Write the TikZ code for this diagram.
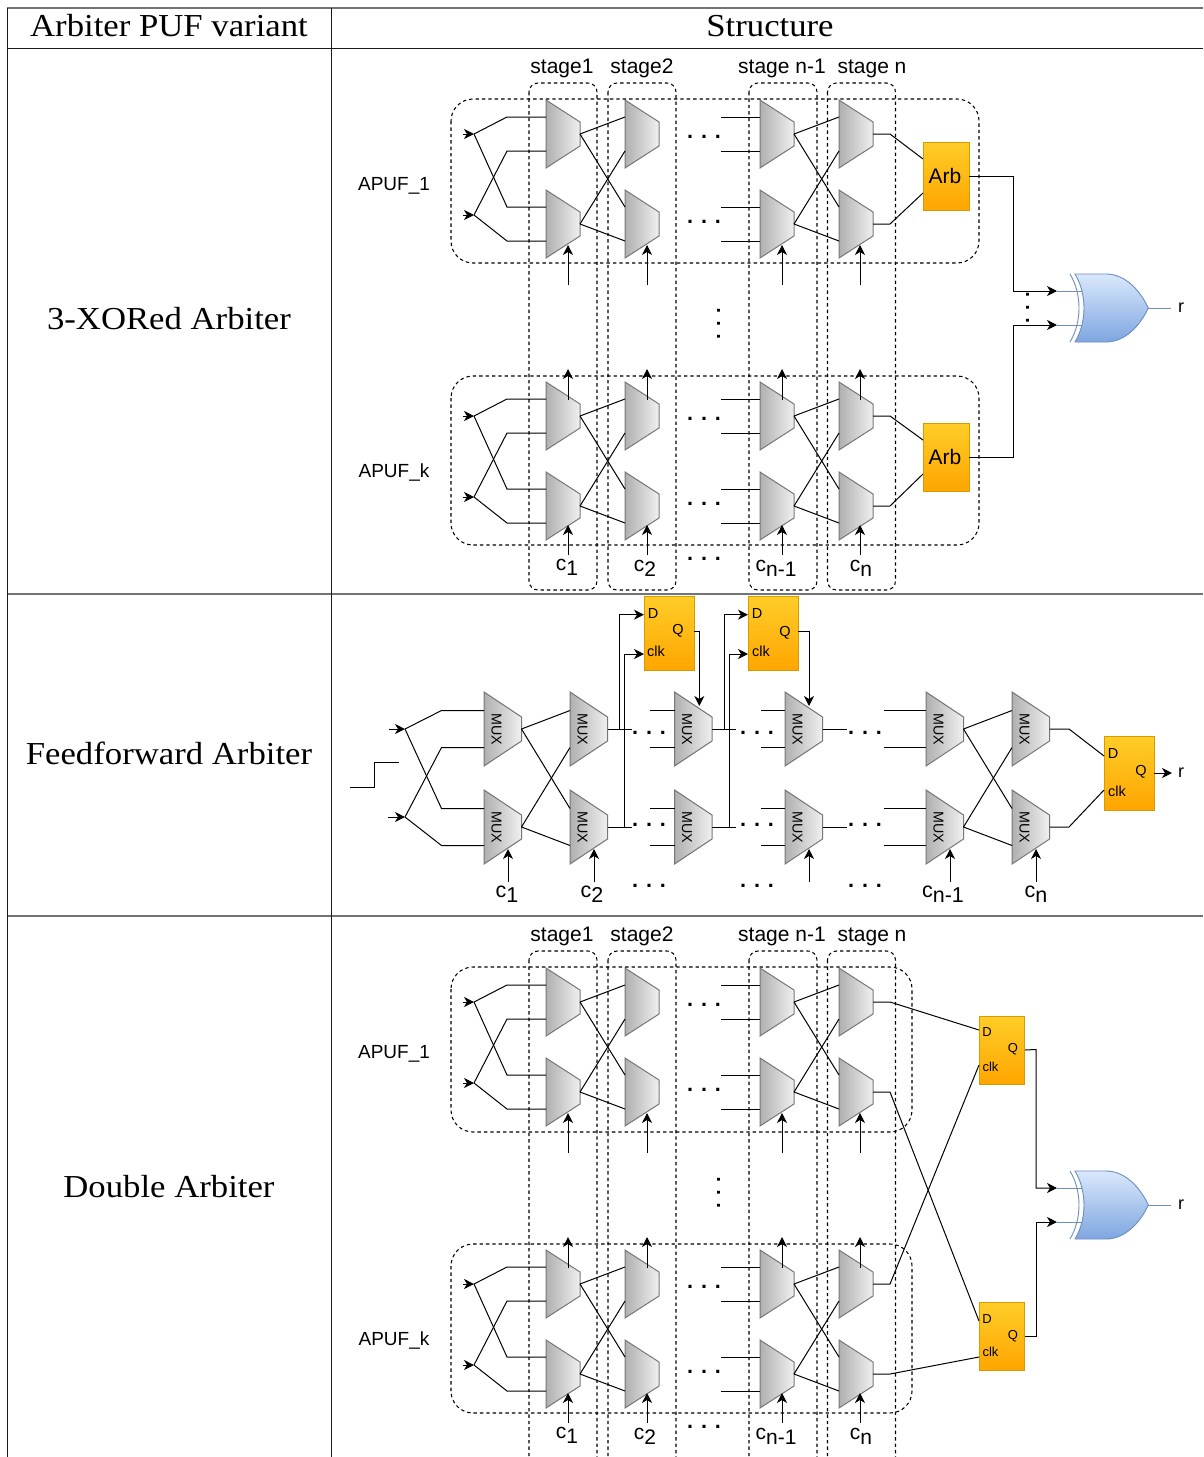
\documentclass[tikz,border=0pt]{standalone}
\usepackage{fontspec}
\setmainfont[FakeStretch=1.085]{Liberation Serif}
\newfontfamily\sansf{Liberation Sans}
\usetikzlibrary{arrows.meta}
\definecolor{muxl}{HTML}{B0B0B0}
\definecolor{muxr}{HTML}{F0F0F0}
\definecolor{muxb}{HTML}{777777}
\definecolor{yt}{HTML}{FFCD28}
\definecolor{yb}{HTML}{FFA500}
\definecolor{yd}{HTML}{D79B00}
\definecolor{bt}{HTML}{DAE8FC}
\definecolor{bb}{HTML}{7EA6E0}
\definecolor{bd}{HTML}{6C8EBF}
\newcommand\fsz[1]{\fontsize{#1}{#1}\selectfont}
\tikzset{
  x=1pt,y=-1pt,
  wire/.style={draw=black,line width=1pt,line join=miter},
  arw/.style={wire,-{Stealth[length=10pt,width=10pt,inset=3pt]}},
  dash box/.style={draw=black,line width=1.05pt,dash pattern=on 3.4pt off 3pt,fill=none},
  grid line/.style={draw=black!55,line width=1.4pt},
  thin grid line/.style={draw=black!90,line width=0.9pt},
  muxfill/.style={draw=muxb,line width=1pt,left color=muxl,right color=muxr},
  yellowbox/.style={draw=yd,line width=0.8pt,top color=yt,bottom color=yb,minimum width=#1,inner sep=0pt,rectangle,font=\sansf\fsz{21}},
  sans/.style={font=\sansf\fsz{#1},inner sep=0pt,text=black},
  serif/.style={font=\fsz{32},inner sep=0pt,text=black},
  dotrow/.style={font=\sansf\bfseries\fsz{21.6},inner sep=0pt,anchor=base},
  dotcol/.style={font=\sansf\bfseries\fsz{20},inner sep=0pt,anchor=base,rotate=90},
  muxtext/.style={font=\sansf\fsz{14.3},inner sep=0pt,rotate=-90,text=black},
}
\newcommand\muxgate[6]{%
  \begin{scope}[shift={(#2,#3)}]
    \path[muxfill] (0,0) -- (#4,#6) -- (#4,#5-#6) -- (0,#5) -- cycle;
    \coordinate (#1-o) at (#4,#5/2);
    \coordinate (#1-a) at (0,#5/4);
    \coordinate (#1-b) at (0,#5*3/4);
  \end{scope}}
% prefix, y of top, control tail y, control tip y
\newcommand\apufcore[4]{%
  \begin{scope}[shift={(0,#2)}]
    \muxgate{#1aa}{546}{0}{34}{68}{22}
    \muxgate{#1ab}{546}{90}{34}{68}{22}
    \muxgate{#1ba}{625}{0}{34}{68}{22}
    \muxgate{#1bb}{625}{90}{34}{68}{22}
    \muxgate{#1ca}{760}{0}{34}{68}{22}
    \muxgate{#1cb}{760}{90}{34}{68}{22}
    \muxgate{#1da}{839}{0}{34}{68}{22}
    \muxgate{#1db}{839}{90}{34}{68}{22}
    \coordinate (#1i1s) at (463,34); \coordinate (#1i1) at (474,34);
    \coordinate (#1i2s) at (463,115); \coordinate (#1i2) at (474,115);
    \coordinate (#1k1) at (507,17); \coordinate (#1k2) at (507,107);
    \coordinate (#1k3) at (507,51); \coordinate (#1k4) at (507,141);
    \coordinate (#1s1) at (721,17); \coordinate (#1s2) at (721,51);
    \coordinate (#1s3) at (721,107); \coordinate (#1s4) at (721,141);
    \draw[arw] (#1i1s) -- (#1i1);
    \draw[arw] (#1i2s) -- (#1i2);
    \draw[wire] (#1i1) -- (#1k1) -- (#1aa-a);
    \draw[wire] (#1i1) -- (#1k2) -- (#1ab-a);
    \draw[wire] (#1i2) -- (#1k3) -- (#1aa-b);
    \draw[wire] (#1i2) -- (#1k4) -- (#1ab-b);
    \draw[wire] (#1aa-o) -- (#1ba-a);
    \draw[wire] (#1aa-o) -- (#1bb-a);
    \draw[wire] (#1ab-o) -- (#1ba-b);
    \draw[wire] (#1ab-o) -- (#1bb-b);
    \draw[wire] (#1ca-o) -- (#1da-a);
    \draw[wire] (#1ca-o) -- (#1db-a);
    \draw[wire] (#1cb-o) -- (#1da-b);
    \draw[wire] (#1cb-o) -- (#1db-b);
    \draw[wire] (#1s1) -- (#1ca-a);
    \draw[wire] (#1s2) -- (#1ca-b);
    \draw[wire] (#1s3) -- (#1cb-a);
    \draw[wire] (#1s4) -- (#1cb-b);
    \foreach \xx/\nn in {568/a,647/b,782/c,860/d}{
      \coordinate (#1t\nn) at (\xx,#3);
      \coordinate (#1h\nn) at (\xx,#4);
      \draw[arw] (#1t\nn) -- (#1h\nn);
    }
    \node[dotrow] (#1d1) at (704,38.5) {. . .};
    \node[dotrow] (#1d2) at (704,123.5) {. . .};
  \end{scope}}
\newcommand\uparrows[2]{%
  \begin{scope}[shift={(0,#2)}]
    \foreach \xx/\nn in {568/a,647/b,782/c,860/d}{
      \coordinate (#1u\nn) at (\xx,18);
      \coordinate (#1v\nn) at (\xx,-13);
      \draw[arw] (#1u\nn) -- (#1v\nn);
    }
  \end{scope}}
\newcommand\stagebox[3]{%
  \draw[dash box,rounded corners=9pt] (#2,#3) rectangle ++(68,#1);}
\newcommand\xorgate[2]{%
  \begin{scope}[shift={(0,#2)}]
    \coordinate (#1-ia) at (1057,17);
    \coordinate (#1-ib) at (1057,51);
    \coordinate (#1-oo) at (1148.3,34);
    \coordinate (#1-r) at (1171,34);
    \draw[bd,line width=0.9pt] (#1-ia) -- (1082,17);
    \draw[bd,line width=0.9pt] (#1-ib) -- (1082,51);
    \draw[bd,line width=0.9pt] (1070,0) .. controls (1082,20) and (1082,48) .. (1070,68);
    \path[draw=bd,line width=0.9pt,top color=bt,bottom color=bb]
      (1075,0) -- (1106,0) .. controls (1126,0) and (1141,18) .. (1148.3,34)
      .. controls (1141,50) and (1126,68) .. (1106,68) -- (1075,68)
      .. controls (1087,48) and (1087,20) .. (1075,0) -- cycle;
    \draw[bd,line width=0.9pt] (#1-oo) -- (#1-r);
    \node[sans=18] (#1-lab) at (1181,34) {r};
  \end{scope}}
\begin{document}
\begin{tikzpicture}
\useasboundingbox (0,0) rectangle (1203,1457);
\fill[white] (0,0) rectangle (1203,1457);
% table
\coordinate (tl) at (7,8); \coordinate (tr) at (1203,8);
\coordinate (h1) at (7,48); \coordinate (h2) at (1203,48);
\coordinate (r1) at (7,594); \coordinate (r2) at (1203,594);
\coordinate (s1) at (7,916); \coordinate (s2) at (1203,916);
\coordinate (bl) at (7,1457); \coordinate (bm) at (331,1457); \coordinate (tm) at (331,8);
\draw[grid line] (tl) -- (tr);
\draw[thin grid line] (h1) -- (h2);
\draw[grid line] (r1) -- (r2);
\draw[grid line] (s1) -- (s2);
\draw[thin grid line] (tl) -- (bl);
\draw[thin grid line] (tm) -- (bm);
\node[serif] (hd1) at (169,26) {Arbiter PUF variant};
\node[serif] (hd2) at (770,26) {Structure};
\node[serif] (rw1) at (169,319) {3-XORed Arbiter};
\node[serif] (rw2) at (169,753) {Feedforward Arbiter};
\node[serif] (rw3) at (169,1187) {Double Arbiter};

% ---------- 3-XORed ----------
\apufcore{A}{100}{185}{145}
\apufcore{B}{382}{173}{143}
\uparrows{B}{382}
\draw[dash box,rounded corners=22pt] (451,99) rectangle (979,263);
\draw[dash box,rounded corners=22pt] (451,376) rectangle (979,545);
\stagebox{507}{529}{83}
\stagebox{507}{608}{83}
\stagebox{507}{749}{83}
\stagebox{507}{827.5}{83}
\node[sans=21] (t1) at (562,68) {stage1};
\node[sans=21] (t2) at (642,68) {stage2};
\node[sans=21] (t3) at (782,68) {stage n-1};
\node[sans=21] (t4) at (872,68.5) {stage n};
\node[sans=19] (l1) at (394,186) {APUF\_1};
\node[sans=19] (l2) at (394,472) {APUF\_k};
\node[yellowbox=46pt,minimum height=68pt] (arb1) at (946,176) {};
\node[yellowbox=46pt,minimum height=68pt] (arb2) at (946,457) {};
\node[sans=21] (arb1t) at (945,176) {Arb};
\node[sans=21] (arb2t) at (945,457) {Arb};
\coordinate (a1u) at (890,134); \coordinate (a1d) at (890,224);
\coordinate (a1i1) at (923,159); \coordinate (a1i2) at (923,193);
\coordinate (a2u) at (890,416); \coordinate (a2d) at (890,506);
\coordinate (a2i1) at (923,440); \coordinate (a2i2) at (923,474);
\draw[wire] (Ada-o) -- (a1u) -- (a1i1);
\draw[wire] (Adb-o) -- (a1d) -- (a1i2);
\draw[wire] (Bda-o) -- (a2u) -- (a2i1);
\draw[wire] (Bdb-o) -- (a2d) -- (a2i2);
\xorgate{X}{274}
\coordinate (x1) at (1013,176); \coordinate (x2) at (1013,458);
\draw[arw] (arb1.east) -- (arb1.east -| x1) -- (x1 |- X-ia) -- (X-ia);
\draw[arw] (arb2.east) -- (arb2.east -| x2) -- (x2 |- X-ib) -- (X-ib);
\node[dotcol] (v1) at (720,324) {. . .};
\node[dotcol] (v2) at (1029,308) {. . .};
\node[dotrow] (dd1) at (704,560) {. . .};
\node[sans=21] (c1) at (567,567) {c\raisebox{-5pt}{1}};
\node[sans=21] (c2) at (645,568) {c\raisebox{-5pt}{2}};
\node[sans=21] (c3) at (776,568) {c\raisebox{-5pt}{n-1}};
\node[sans=21] (c4) at (861,568) {c\raisebox{-5pt}{n}};

% ---------- Feedforward ----------
\foreach \nn/\xx in {a/484,b/570,c/674.5,d/785,e/926,f/1012}{
  \muxgate{Fu\nn}{\xx}{692}{37.5}{74}{25}
  \muxgate{Fl\nn}{\xx}{790}{37.5}{74}{25}
  \node[muxtext] (Fut\nn) at (\xx+12.5,729) {MUX};
  \node[muxtext] (Flt\nn) at (\xx+12.5,827) {MUX};
}
\coordinate (wv1) at (350,787); \coordinate (wv2) at (374,787);
\coordinate (wv3) at (374,762.7); \coordinate (wv4) at (399,762.7);
\draw[wire] (wv1) -- (wv2) -- (wv3) -- (wv4);
\coordinate (Fi1s) at (389,729); \coordinate (Fi1) at (405,729);
\coordinate (Fi2s) at (388,817); \coordinate (Fi2) at (405,817);
\draw[arw] (Fi1s) -- (Fi1);
\draw[arw] (Fi2s) -- (Fi2);
\coordinate (Fk1) at (441.5,710.5); \coordinate (Fk2) at (441.5,808.5);
\coordinate (Fk3) at (441.5,747.5); \coordinate (Fk4) at (441.5,845.5);
\draw[wire] (Fi1) -- (Fk1) -- (Fua-a);
\draw[wire] (Fi1) -- (Fk2) -- (Fla-a);
\draw[wire] (Fi2) -- (Fk3) -- (Fua-b);
\draw[wire] (Fi2) -- (Fk4) -- (Fla-b);
\draw[wire] (Fua-o) -- (Fub-a);
\draw[wire] (Fua-o) -- (Flb-a);
\draw[wire] (Fla-o) -- (Fub-b);
\draw[wire] (Fla-o) -- (Flb-b);
\draw[wire] (Fue-o) -- (Fuf-a);
\draw[wire] (Fue-o) -- (Flf-a);
\draw[wire] (Fle-o) -- (Fuf-b);
\draw[wire] (Fle-o) -- (Flf-b);
\foreach \nn/\xx in {c/650,d/761,e/884}{
  \coordinate (Fs1\nn) at (\xx,710.5);
  \coordinate (Fs2\nn) at (\xx,747.5);
  \coordinate (Fs3\nn) at (\xx,808.5);
  \coordinate (Fs4\nn) at (\xx,845.5);
  \draw[wire] (Fs1\nn) -- (Fu\nn-a);
  \draw[wire] (Fs2\nn) -- (Fu\nn-b);
  \draw[wire] (Fs3\nn) -- (Fl\nn-a);
  \draw[wire] (Fs4\nn) -- (Fl\nn-b);
}
\foreach \nn/\xx in {b/632,c/736,d/847}{
  \coordinate (Fe1\nn) at (\xx,729);
  \coordinate (Fe2\nn) at (\xx,827);
  \draw[wire] (Fu\nn-o) -- (Fe1\nn);
  \draw[wire] (Fl\nn-o) -- (Fe2\nn);
}
\foreach \nn/\xx in {a/508,b/594,d/809,e/950,f/1036}{
  \coordinate (Fct\nn) at (\xx,882);
  \coordinate (Fch\nn) at (\xx,849);
  \draw[arw] (Fct\nn) -- (Fch\nn);
}
% flip-flops
\node[yellowbox=50pt,minimum height=74.5pt] (ff1) at (669,633.5) {};
\node[yellowbox=50pt,minimum height=74.5pt] (ff2) at (773,633.5) {};
\node[yellowbox=50pt,minimum height=74pt] (ff3) at (1129,773) {};
\foreach \f/\xd/\xq/\xc/\yd/\yq/\yc in {ff1/653/678/656/614/631/651,ff2/757/785/761/614/633/651,ff3/1113/1141/1117/754/772/791}{
  \node[sans=14.5] (\f d) at (\xd,\yd) {D};
  \node[sans=14.5] (\f q) at (\xq,\yq) {Q};
  \node[sans=14.5] (\f c) at (\xc,\yc) {clk};
}
\coordinate (p1) at (619.3,729); \coordinate (p1t) at (619.3,614.7);
\coordinate (p2) at (624.3,827); \coordinate (p2t) at (624.3,654);
\coordinate (p3) at (724,729); \coordinate (p3t) at (724,614.7);
\coordinate (p4) at (729,827); \coordinate (p4t) at (729,654);
\coordinate (g1d) at (644,614.7); \coordinate (g1c) at (644,654);
\coordinate (g2d) at (748,614.7); \coordinate (g2c) at (748,654);
\draw[arw] (p1) -- (p1t) -- (g1d);
\draw[arw] (p2) -- (p2t) -- (g1c);
\draw[arw] (p3) -- (p3t) -- (g2d);
\draw[arw] (p4) -- (p4t) -- (g2c);
\coordinate (q1o) at (694,631.7); \coordinate (q1k) at (699.3,631.7); \coordinate (q1t) at (699.3,706);
\coordinate (q2o) at (798,631.7); \coordinate (q2k) at (809,631.7); \coordinate (q2t) at (809,706);
\draw[arw] (q1o) -- (q1k) -- (q1t);
\draw[arw] (q2o) -- (q2k) -- (q2t);
\coordinate (Fz1) at (1069,729); \coordinate (Fz2) at (1069,827);
\coordinate (ff3a) at (1104,756); \coordinate (ff3b) at (1104,790);
\draw[wire] (Fuf-o) -- (Fz1) -- (ff3a);
\draw[wire] (Flf-o) -- (Fz2) -- (ff3b);
\coordinate (ff3o) at (1154,773); \coordinate (ff3e) at (1172,773);
\draw[arw] (ff3o) -- (ff3e);
\node[sans=18] (rr) at (1181,773) {r};
\foreach \xx/\i in {649/1,757/2,865/3}{
  \node[dotrow] (Fd1\i) at (\xx,734.5) {. . .};
  \node[dotrow] (Fd2\i) at (\xx,826.5) {. . .};
  \node[dotrow] (Fd3\i) at (\xx,887.5) {. . .};
}
\node[sans=21.5] (Fc1) at (507,894) {c\raisebox{-5pt}{1}};
\node[sans=21.5] (Fc2) at (592,894) {c\raisebox{-5pt}{2}};
\node[sans=21.5] (Fc3) at (943,894) {c\raisebox{-5pt}{n-1}};
\node[sans=21.5] (Fc4) at (1036,894) {c\raisebox{-5pt}{n}};

% ---------- Double ----------
\apufcore{C}{968}{185}{145}
\apufcore{D}{1250}{173}{143}
\uparrows{D}{1250}
\draw[dash box,rounded corners=22pt] (451,967) rectangle (912,1132);
\draw[dash box,rounded corners=22pt] (451,1244) rectangle (912,1413);
\stagebox{600}{529}{951}
\stagebox{600}{608}{951}
\stagebox{600}{749}{951}
\stagebox{600}{827.5}{951}
\node[sans=21] (t5) at (562,936) {stage1};
\node[sans=21] (t6) at (642,936) {stage2};
\node[sans=21] (t7) at (782,936) {stage n-1};
\node[sans=21] (t8) at (872,936.5) {stage n};
\node[sans=19] (l3) at (394,1054) {APUF\_1};
\node[sans=19] (l4) at (394,1340) {APUF\_k};
\node[yellowbox=45.5pt,minimum height=68pt] (ff4) at (1002,1050) {};
\node[yellowbox=45.5pt,minimum height=68pt] (ff5) at (1002,1336.5) {};
\node[sans=13] (ff4d) at (987,1032) {D};
\node[sans=13] (ff4q) at (1013,1049) {Q};
\node[sans=13] (ff4c) at (990.5,1067) {clk};
\node[sans=13] (ff5d) at (987,1319) {D};
\node[sans=13] (ff5q) at (1013,1336) {Q};
\node[sans=13] (ff5c) at (990.5,1352) {clk};
\coordinate (Cu) at (890,1002); \coordinate (Cd) at (890,1092);
\coordinate (Du) at (890,1284); \coordinate (Dd) at (890,1374);
\coordinate (f4d) at (979,1030); \coordinate (f4c) at (979,1065);
\coordinate (f5d) at (979,1321); \coordinate (f5c) at (979,1357);
\draw[wire] (Cda-o) -- (Cu) -- (f4d);
\draw[wire] (Cdb-o) -- (Cd) -- (f5d);
\draw[wire] (Dda-o) -- (Du) -- (f4c);
\draw[wire] (Ddb-o) -- (Dd) -- (f5c);
\xorgate{Y}{1171}
\coordinate (y1) at (1036,1049.5); \coordinate (y2) at (1036,1336.5);
\draw[arw] (ff4.east) -- (y1) -- (y1 |- Y-ia) -- (Y-ia);
\draw[arw] (ff5.east) -- (y2) -- (y2 |- Y-ib) -- (Y-ib);
\node[dotcol] (v3) at (720,1193) {. . .};
\node[dotrow] (dd2) at (704,1428) {. . .};
\node[sans=21] (c5) at (567,1435) {c\raisebox{-5pt}{1}};
\node[sans=21] (c6) at (645,1436) {c\raisebox{-5pt}{2}};
\node[sans=21] (c7) at (776,1436) {c\raisebox{-5pt}{n-1}};
\node[sans=21] (c8) at (861,1436) {c\raisebox{-5pt}{n}};
\end{tikzpicture}
\end{document}
